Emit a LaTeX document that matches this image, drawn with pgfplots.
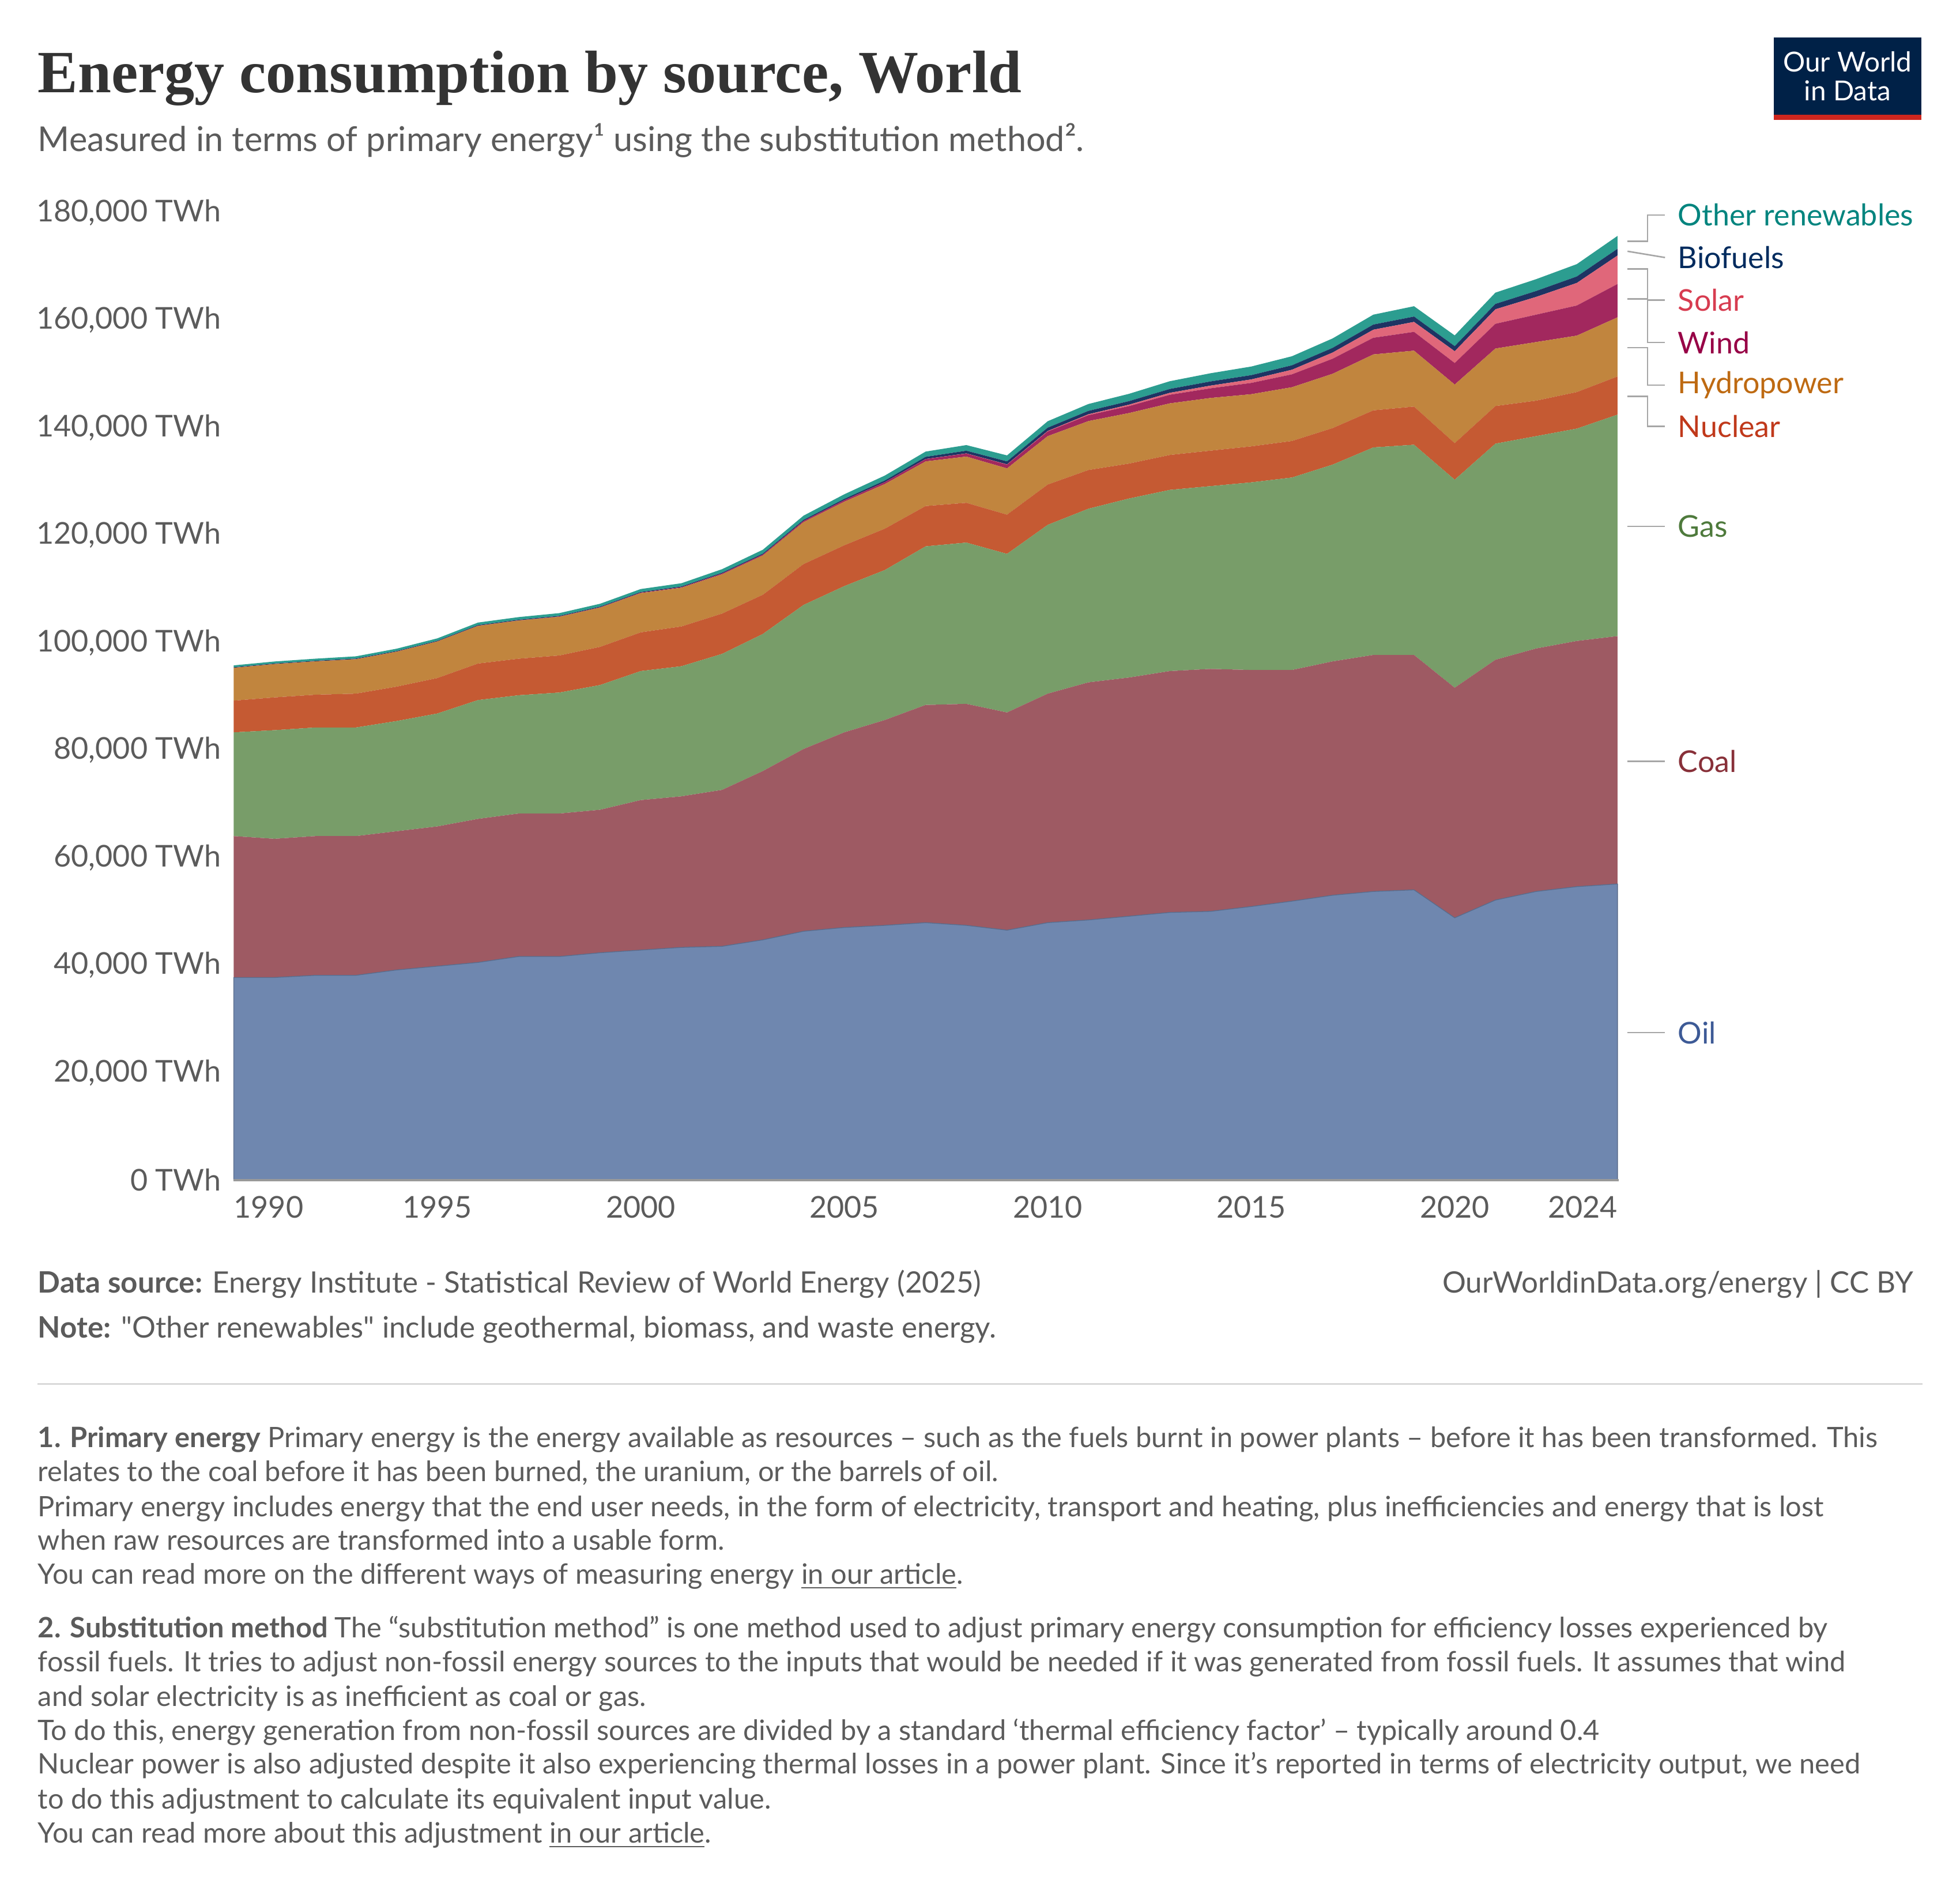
\documentclass[border=0pt]{standalone}
\usepackage{pgfplots}
\pgfplotsset{compat=1.18}
\usepackage{pgfplotstable}
\usepackage{fontspec}
\setmainfont{Lato}
\newfontfamily\plainlato[Ligatures=ResetAll]{Lato}
\newfontfamily\titlefont{Liberation Serif}
\definecolor{txt}{HTML}{5B5B5B}
\definecolor{cOil}{HTML}{6F87AF}
\definecolor{cCoal}{HTML}{9E5A63}
\definecolor{cGas}{HTML}{789D69}
\definecolor{cNuc}{HTML}{C55A33}
\definecolor{cHyd}{HTML}{C1853E}
\definecolor{cWind}{HTML}{A2285E}
\definecolor{cSol}{HTML}{E0677A}
\definecolor{cBio}{HTML}{1E3463}
\definecolor{cOth}{HTML}{2C9D90}
\definecolor{lOil}{HTML}{3D5A96}
\definecolor{lCoal}{HTML}{883039}
\definecolor{lGas}{HTML}{4E7A3C}
\definecolor{lNuc}{HTML}{C0391B}
\definecolor{lHyd}{HTML}{BE6A12}
\definecolor{lWind}{HTML}{970046}
\definecolor{lSol}{HTML}{D73C50}
\definecolor{lBio}{HTML}{002B5E}
\definecolor{lOth}{HTML}{00847E}
\definecolor{owid}{HTML}{002147}
\definecolor{owidred}{HTML}{CE261E}
\pgfplotstableread{
yr oil coal gas nuc hyd wind sol bio oth
1990 37.7 26.3 19.3 5.9 6.1 0.01 0.00 0.10 0.35
1991 37.7 25.8 20.2 6.1 6.2 0.01 0.00 0.10 0.37
1992 38.1 25.9 20.2 6.1 6.2 0.01 0.00 0.10 0.39
1993 38.1 25.9 20.2 6.3 6.4 0.02 0.00 0.11 0.41
1994 39.1 25.8 20.5 6.4 6.5 0.02 0.00 0.11 0.43
1995 39.8 26.0 21.0 6.6 6.8 0.02 0.00 0.11 0.45
1996 40.5 26.7 22.1 6.8 7.0 0.03 0.00 0.12 0.47
1997 41.6 26.6 22.0 6.8 7.1 0.03 0.00 0.12 0.49
1998 41.6 26.6 22.5 6.9 7.2 0.05 0.00 0.12 0.51
1999 42.3 26.6 23.2 7.1 7.3 0.06 0.00 0.13 0.53
2000 42.8 27.9 24.0 7.2 7.3 0.08 0.00 0.13 0.55
2001 43.3 28.1 24.2 7.4 7.2 0.10 0.00 0.14 0.60
2002 43.5 29.1 25.3 7.5 7.3 0.14 0.01 0.16 0.65
2003 44.7 31.4 25.5 7.3 7.3 0.16 0.01 0.18 0.72
2004 46.3 33.9 26.8 7.6 7.8 0.21 0.01 0.21 0.78
2005 47.0 36.3 27.2 7.6 8.1 0.27 0.01 0.25 0.85
2006 47.4 38.2 27.9 7.7 8.3 0.34 0.01 0.31 0.92
2007 47.9 40.5 29.5 7.5 8.3 0.43 0.02 0.40 0.98
2008 47.4 41.2 30.0 7.4 8.6 0.56 0.03 0.50 1.05
2009 46.5 40.5 29.5 7.3 8.6 0.70 0.05 0.55 1.12
2010 47.9 42.6 31.4 7.5 9.0 0.87 0.09 0.62 1.20
2011 48.4 44.2 32.3 7.2 9.1 1.10 0.17 0.63 1.28
2012 49.1 44.4 33.3 6.5 9.4 1.30 0.26 0.66 1.36
2013 49.8 44.9 33.7 6.5 9.6 1.60 0.36 0.72 1.44
2014 50.0 45.1 34.0 6.6 9.8 1.80 0.50 0.78 1.52
2015 50.9 44.0 34.9 6.7 9.7 2.10 0.65 0.80 1.60
2016 51.9 43.0 35.8 6.8 10.0 2.40 0.85 0.83 1.68
2017 53.0 43.5 36.6 6.8 10.1 2.80 1.15 0.87 1.76
2018 53.7 44.0 38.6 6.9 10.4 3.10 1.50 0.96 1.84
2019 54.0 43.7 39.1 7.1 10.4 3.50 1.85 1.00 1.92
2020 48.8 42.8 38.7 6.8 10.9 4.00 2.20 0.94 2.00
2021 52.1 44.7 40.2 7.0 10.7 4.60 2.70 1.00 2.10
2022 53.7 45.2 39.5 6.6 10.9 5.10 3.30 1.10 2.20
2023 54.6 45.7 39.5 6.8 10.5 5.60 4.20 1.20 2.30
2024 55.1 46.1 41.2 7.1 11.0 6.20 5.30 1.25 2.40
}\data
\begin{document}
\begin{tikzpicture}[x=0.5pt,y=-0.5pt]
\path (0,0) rectangle (1568,1509);
\begin{axis}[
  at={(93.5pt,-472pt)}, anchor=south west, scale only axis,
  width=553.5pt, height=387pt,
  xmin=1990, xmax=2024, ymin=0, ymax=180,
  stack plots=y,
  axis line style={draw=none}, axis x line*=bottom, axis y line=none,
  ytick={0,20,...,180}, ymajorgrids, major grid style={dashed, gray!40, line width=0.6pt},
  xtick={1990,1995,2000,2005,2010,2015,2020,2024},
  xticklabels={\makebox[0pt][l]{1990},1995,2000,2005,2010,2015,2020,\makebox[0pt][r]{2024}},
  tick style={draw=none},
  xticklabel style={font=\fontsize{12}{14}\selectfont, text=txt, yshift=-3pt},
  clip=false,
]
\addplot[fill=cOil, draw=cOil!80!black, line width=0.3pt] table[x=yr,y=oil]{\data}\closedcycle;
\addplot[fill=cCoal, draw=none] table[x=yr,y=coal]{\data}\closedcycle;
\addplot[fill=cGas, draw=none] table[x=yr,y=gas]{\data}\closedcycle;
\addplot[fill=cNuc, draw=none] table[x=yr,y=nuc]{\data}\closedcycle;
\addplot[fill=cHyd, draw=none] table[x=yr,y=hyd]{\data}\closedcycle;
\addplot[fill=cWind, draw=none] table[x=yr,y=wind]{\data}\closedcycle;
\addplot[fill=cSol, draw=none] table[x=yr,y=sol]{\data}\closedcycle;
\addplot[fill=cBio, draw=none] table[x=yr,y=bio]{\data}\closedcycle;
\addplot[fill=cOth, draw=none] table[x=yr,y=oth]{\data}\closedcycle;
\end{axis}
\draw[gray!80, line width=0.8pt] (187,944) -- (1295,944);
\foreach \y/\l in {944/0,858/{20,000},772/{40,000},686/{60,000},600/{80,000},514/{100,000},428/{120,000},342/{140,000},256/{160,000},170/{180,000}}
  \node[anchor=east, text=txt, font=\fontsize{12}{14}\selectfont, inner xsep=0pt] at (177,\y) {\l\ TWh};
\node[anchor=base west, inner xsep=0pt, font=\titlefont\bfseries\fontsize{24}{28}\selectfont, text=black!80] at (30,74) {Energy consumption by source, World};
\node[anchor=base west, inner xsep=0pt, font=\fontsize{13.7}{16}\selectfont, text=txt] at (30,121) {Measured in terms of primary energy¹ using the substitution method².};
\fill[owid] (1419,30) rectangle (1537,96);
\fill[owidred] (1419,92) rectangle (1537,96);
\node[text=white, align=center, font=\fontsize{11}{11.5}\selectfont] at (1478,61) {Our World\\in Data};
\def\lab#1#2#3{\node[anchor=west, inner xsep=0pt, text=#1, font=\fontsize{12}{14}\selectfont] at (1342,#2) {#3};}
\lab{lOth}{172}{Other renewables}
\lab{lBio}{206}{Biofuels}
\lab{lSol}{240}{Solar}
\lab{lWind}{274}{Wind}
\lab{lHyd}{308}{Hydropower}
\lab{lNuc}{341}{Nuclear}
\lab{lGas}{421}{Gas}
\lab{lCoal}{609}{Coal}
\lab{lOil}{826}{Oil}
\begin{scope}[gray!70, line width=0.6pt]
\draw (1302,193) -- (1318,193) -- (1318,172) -- (1332,172);
\draw (1302,201) -- (1332,206);
\draw (1302,215) -- (1318,215) -- (1318,240) -- (1332,240);
\draw (1302,239) -- (1318,239) -- (1318,274) -- (1332,274);
\draw (1302,278) -- (1318,278) -- (1318,308) -- (1332,308);
\draw (1302,317) -- (1318,317) -- (1318,341) -- (1332,341);
\draw (1302,421) -- (1332,421);
\draw (1302,609) -- (1332,609);
\draw (1302,826) -- (1332,826);
\end{scope}
\node[anchor=base west, inner xsep=0pt, text=txt, font=\fontsize{11.8}{14}\selectfont] at (30,1034) {\textbf{Data source:} Energy Institute - Statistical Review of World Energy (2025)};
\node[anchor=base east, inner xsep=0pt, text=txt, font=\fontsize{11.8}{14}\selectfont] at (1531,1034) {OurWorldinData.org/energy | CC BY};
\node[anchor=base west, inner xsep=0pt, text=txt, font=\fontsize{11.8}{14}\selectfont] at (30,1070) {\textbf{Note:} {\plainlato"}Other renewables{\plainlato"} include geothermal, biomass, and waste energy.};
\draw[gray!30, line width=0.6pt] (30,1107) -- (1538,1107);
\begin{scope}[every node/.style={anchor=base west, inner xsep=0pt, text=txt, font=\fontsize{11.25}{13}\selectfont}]
\node at (30,1158) {\textbf{1. Primary energy} Primary energy is the energy available as resources -- such as the fuels burnt in power plants -- before it has been transformed. This};
\node at (30,1185) {relates to the coal before it has been burned, the uranium, or the barrels of oil.};
\node at (30,1213) {Primary energy includes energy that the end user needs, in the form of electricity, transport and heating, plus inefficiencies and energy that is lost};
\node at (30,1240) {when raw resources are transformed into a usable form.};
\node at (30,1267) {You can read more on the different ways of measuring energy \underline{in our article}.};
\node at (30,1310) {\textbf{2. Substitution method} The “substitution method” is one method used to adjust primary energy consumption for efficiency losses experienced by};
\node at (30,1337) {fossil fuels. It tries to adjust non-fossil energy sources to the inputs that would be needed if it was generated from fossil fuels. It assumes that wind};
\node at (30,1365) {and solar electricity is as inefficient as coal or gas.};
\node at (30,1392) {To do this, energy generation from non-fossil sources are divided by a standard ‘thermal efficiency factor’ -- typically around 0.4};
\node at (30,1419) {Nuclear power is also adjusted despite it also experiencing thermal losses in a power plant. Since it’s reported in terms of electricity output, we need};
\node at (30,1447) {to do this adjustment to calculate its equivalent input value.};
\node at (30,1474) {You can read more about this adjustment \underline{in our article}.};
\end{scope}
\end{tikzpicture}
\end{document}
